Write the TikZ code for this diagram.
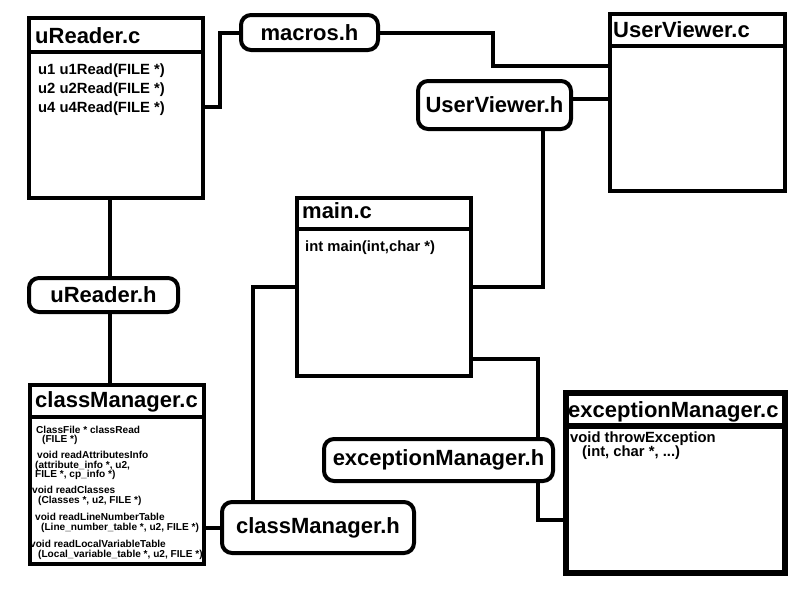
\documentclass[tikz,border=0pt]{standalone}
\usepackage{fontspec}
\setmainfont{Liberation Sans}
\begin{document}
\begin{tikzpicture}[x=1pt,y=-1pt,
  box/.style={draw, line width=4pt, rectangle, inner sep=0pt, outer sep=0pt},
  rbox/.style={box, rounded corners=10pt, font=\fontsize{22}{24}\selectfont\bfseries},
  conn/.style={line width=4pt},
  ttl/.style={anchor=base west, inner sep=0pt, font=\fontsize{22}{24}\selectfont\bfseries},
  mth/.style={anchor=base west, inner sep=0pt, font=\fontsize{14.8}{17}\selectfont\bfseries},
  tiny/.style={anchor=base west, inner sep=0pt, font=\fontsize{10.1}{12}\selectfont\bfseries}]
\useasboundingbox (0,0) rectangle (800,600);
\fill[white] (0,0) rectangle (800,600);

% class boxes
\node[box, minimum width=174pt, minimum height=180pt] (uRc) at (116,108) {};
\node[box, minimum width=175pt, minimum height=177pt] (uvc) at (697.5,102.5) {};
\node[box, minimum width=174pt, minimum height=178pt] (main) at (384,287) {};
\node[box, line width=5.5pt, minimum width=219pt, minimum height=180pt] (emc) at (675.5,483) {};
\node[box, minimum width=174pt, minimum height=179pt] (cmc) at (117,474.5) {};

% header rules
\draw[conn] (uRc.west |- 0,52) -- (uRc.east |- 0,52);
\draw[conn] (uvc.west |- 0,46) -- (uvc.east |- 0,46);
\draw[conn] (main.west |- 0,229) -- (main.east |- 0,229);
\draw[conn, line width=5.5pt] (emc.west |- 0,426) -- (emc.east |- 0,426);
\draw[conn] (cmc.west |- 0,417) -- (cmc.east |- 0,417);

% rounded header files
\node[rbox, minimum width=137pt, minimum height=35pt] (macros) at (309.5,32.5) {macros.h};
\node[rbox, minimum width=153pt, minimum height=48pt] (uvh) at (494.5,105) {UserViewer.h};
\node[rbox, minimum width=229pt, minimum height=42pt] (emh) at (438.5,460) {exceptionManager.h};
\node[rbox, minimum width=149pt, minimum height=34pt] (urh) at (103.5,295) {uReader.h};
\node[rbox, minimum width=192pt, minimum height=51pt] (cmh) at (318,527.5) {classManager.h};

% titles
\node[ttl] (t1) at (35,43) {uReader.c};
\node[ttl] (t2) at (613,37) {UserViewer.c};
\node[ttl] (t3) at (302,218) {main.c};
\node[ttl] (t4) at (568,417) {exceptionManager.c};
\node[ttl] (t5) at (35,407) {classManager.c};

% methods
\node[mth] (m1) at (38,74) {u1 u1Read(FILE *)};
\node[mth] (m2) at (38,93) {u2 u2Read(FILE *)};
\node[mth] (m3) at (38,112) {u4 u4Read(FILE *)};
\node[mth] (m4) at (305,251) {int main(int,char *)};
\node[mth] (m5) at (570,442) {void throwException};
\node[mth] (m6) at (582,456) {(int, char *, ...)};

\node[tiny] (c1) at (36,433) {ClassFile * classRead};
\node[tiny] (c2) at (42,442) {(FILE *)};
\node[tiny] (c3) at (37,458) {void readAttributesInfo};
\node[tiny] (c4) at (35,468) {(attribute\_info *, u2,};
\node[tiny] (c5) at (35,477) {FILE *, cp\_info *)};
\node[tiny] (c6) at (32,493) {void readClasses};
\node[tiny] (c7) at (38,503) {(Classes *, u2, FILE *)};
\node[tiny] (c8) at (35,520) {void readLineNumberTable};
\node[tiny] (c9) at (41,530) {(Line\_number\_table *, u2, FILE *)};
\node[tiny] (c10) at (30,547) {void readLocalVariableTable};
\node[tiny] (c11) at (38,557) {(Local\_variable\_table *, u2, FILE *)};

% connectors
\coordinate (b1) at (220,107);
\draw[conn] (b1 -| uRc.east) -- (b1) |- (macros.west);
\coordinate (b2) at (493,66);
\draw[conn] (macros.east) -| (b2) -- (b2 -| uvc.west);
\draw[conn] ([yshift=6pt]uvh.east) -- ([yshift=6pt]uvh.east -| uvc.west);
\draw[conn] ([xshift=48.5pt]uvh.south) |- (main.east);
\draw[conn] ([yshift=17pt]main.south east) -| ([xshift=99.5pt]emh.north);
\draw[conn] ([xshift=99.5pt]emh.south) |- ([yshift=-37pt]emc.west);
\draw[conn] ([xshift=-6pt]uRc.south) -- ([xshift=-6pt]uRc.south |- urh.north);
\draw[conn] ([xshift=-6pt]uRc.south |- urh.south) -- ([xshift=-6pt]uRc.south |- cmc.north);
\draw[conn] (cmh.west) -- (cmh.west -| cmc.east);
\draw[conn] ([xshift=-65pt]cmh.north) |- (main.west);
\end{tikzpicture}
\end{document}
